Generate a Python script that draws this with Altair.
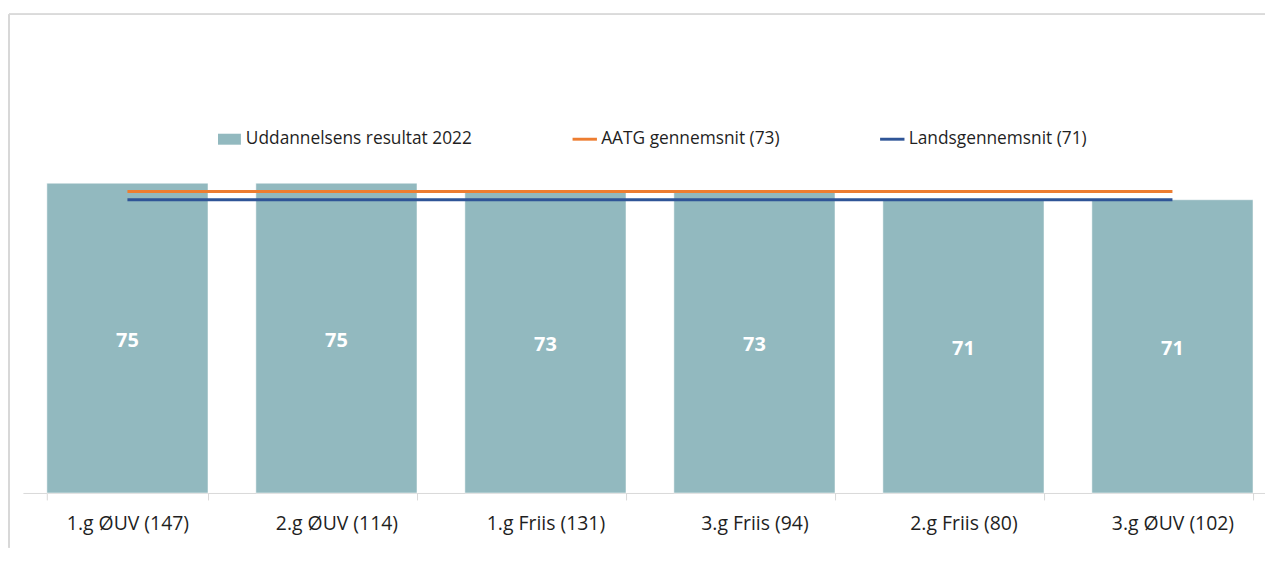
import altair as alt
import pandas as pd

categories = ["1.g ØUV (147)", "2.g ØUV (114)", "1.g Friis (131)", "3.g Friis (94)", "2.g Friis (80)", "3.g ØUV (102)"]
results = [75, 75, 73, 73, 71, 71]
aatg_avg = 73
national_avg = 71

S_BAR = "Uddannelsens resultat 2022"
S_AATG = "AATG gennemsnit (73)"
S_LAND = "Landsgennemsnit (71)"
series_names = [S_BAR, S_AATG, S_LAND]

bars_df = pd.DataFrame({"cat": categories, "value": results})
aatg_df = pd.DataFrame({"cat": categories, "value": [aatg_avg] * len(categories)})
land_df = pd.DataFrame({"cat": categories, "value": [national_avg] * len(categories)})
legend_df = pd.DataFrame({"series": series_names})

FONT = "Open Sans"
TEAL = "#92B9BF"
ORANGE = "#ED7D31"
BLUE = "#2F5597"
colors = [TEAL, ORANGE, BLUE]

x_scale = alt.Scale(paddingInner=0.229)
x_axis = alt.Axis(labelAngle=0, labelFontSize=19.5, labelFont=FONT, labelColor="#1f1f1f",
                  labelPadding=15, domainColor="#d9d9d9", tickColor="#d9d9d9",
                  tickBand="extent", tickSize=7, grid=False)
x_enc = alt.X("cat:N", sort=categories, title=None, scale=x_scale, axis=x_axis)
y_scale = alt.Scale(domain=[0, 100], nice=False)
y_enc = alt.Y("value:Q", scale=y_scale, axis=None)

legend = alt.Legend(
    title=None, orient="none", direction="horizontal", legendX=195, legendY=47,
    labelFont=FONT, labelFontSize=17.4, labelColor="#1f1f1f", symbolSize=600,
    columnPadding=100, labelOffset=4, labelLimit=400, padding=0,
    symbolStrokeWidth=0, symbolOpacity=1,
)

legend_layer = alt.Chart(legend_df).mark_point(filled=True, size=0).encode(
    x=alt.value(0), y=alt.value(0),
    color=alt.Color("series:N", scale=alt.Scale(domain=series_names, range=colors), legend=legend),
    shape=alt.Shape("series:N", scale=alt.Scale(domain=series_names,
                    range=["M-0.94,-0.45H0.94V0.45H-0.94Z",
                           "M-1,-0.12H1V0.12H-1Z",
                           "M-1,-0.12H1V0.12H-1Z"]), legend=legend),
)

bars = alt.Chart(bars_df).mark_bar(color=TEAL, stroke="white", strokeWidth=0.5).encode(
    x=x_enc, y=y_enc,
)

labels = alt.Chart(bars_df).transform_calculate(mid="datum.value / 2").mark_text(
    color="white", fontWeight="bold", fontSize=20, font=FONT, baseline="middle", dy=3
).encode(
    x=x_enc,
    y=alt.Y("mid:Q", scale=y_scale, axis=None),
    text=alt.Text("value:Q"),
)

line_aatg = alt.Chart(aatg_df).mark_line(strokeWidth=3, color=ORANGE).encode(x=x_enc, y=y_enc)
line_land = alt.Chart(land_df).mark_line(strokeWidth=3, color=BLUE).encode(x=x_enc, y=y_enc)

frame_top = alt.Chart(bars_df).mark_rule(color="#d9d9d9", strokeWidth=1).encode(
    x=alt.value(-14), x2=alt.value(1250), y=alt.value(-66)
)
frame_left = alt.Chart(bars_df).mark_rule(color="#d9d9d9", strokeWidth=1).encode(
    x=alt.value(-14), y=alt.value(-66), y2=alt.value(470)
)

chart = alt.layer(frame_top, frame_left, bars, line_aatg, line_land, labels, legend_layer).properties(
    width=1260, height=415,
    autosize=alt.AutoSizeParams(type="none"),
    padding={"left": 15, "top": 71, "right": -12, "bottom": 54},
).configure(font=FONT).configure_view(strokeWidth=0, stroke="transparent")

chart.save("out.html", embed_options={"renderer": "svg", "actions": False})
